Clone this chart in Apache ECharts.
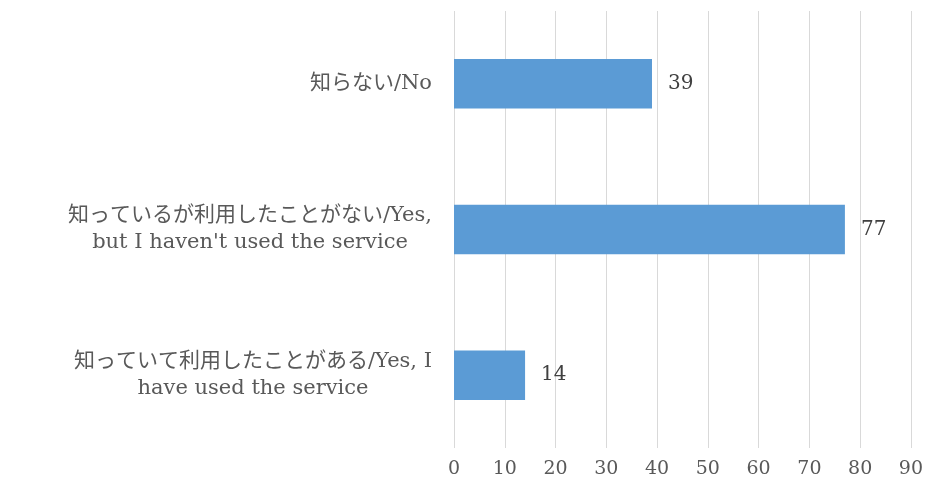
<!DOCTYPE html>
<html>
<head>
<meta charset="utf-8">
<script src="https://cdn.jsdelivr.net/npm/echarts@6/dist/echarts.min.js"></script>
<style>
  html, body { margin: 0; padding: 0; background: #fff; }
  #chart { width: 926px; height: 486px; }
</style>
</head>
<body>
<div id="chart"></div>
<script>
// categories top to bottom, each line of a label kept as written in the chart
const categories = [
  ['知らない/No'],
  ['知っているが利用したことがない/Yes,', "but I haven't used the service"],
  ['知っていて利用したことがある/Yes, I', 'have used the service']
];
const values = [39, 77, 14];
const xTicks = { min: 0, max: 90, interval: 10 };

const fontFamily = '"DejaVu Serif", "Noto Sans CJK JP", serif';

const chart = echarts.init(document.getElementById('chart'));
chart.setOption({
  animation: false,
  grid: { left: 454, right: 15, top: 11, bottom: 38, containLabel: false },
  xAxis: {
    type: 'value',
    min: xTicks.min,
    max: xTicks.max,
    interval: xTicks.interval,
    axisLine: { show: false },
    axisTick: { show: false },
    axisLabel: { color: '#595959', fontSize: 19, fontFamily: fontFamily, margin: 12 },
    splitLine: { lineStyle: { color: '#d9d9d9', width: 1 } }
  },
  yAxis: {
    type: 'category',
    inverse: true,
    data: categories.map((c, i) => String(i)),
    axisLine: { show: false },
    axisTick: { show: false },
    axisLabel: {
      margin: 22,
      align: 'right',
      lineHeight: 27,
      formatter: (v) => categories[+v].map(line => '{c|' + line + '}').join('\n'),
      rich: {
        c: { align: 'center', color: '#595959', fontSize: 21, fontFamily: fontFamily, lineHeight: 27 }
      }
    }
  },
  series: [{
    type: 'bar',
    data: values,
    barWidth: '34%',
    itemStyle: { color: '#5b9bd5' },
    label: {
      show: true,
      position: 'right',
      distance: 16,
      color: '#404040',
      fontSize: 20,
      fontFamily: fontFamily
    }
  }]
});
</script>
</body>
</html>
